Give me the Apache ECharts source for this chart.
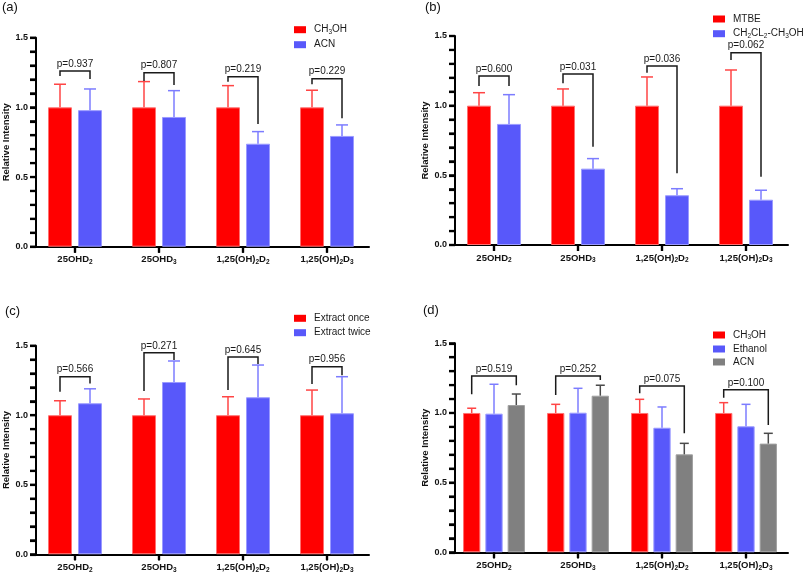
<!DOCTYPE html>
<html>
<head>
<meta charset="utf-8">
<script src="https://cdn.jsdelivr.net/npm/echarts@6/dist/echarts.min.js"></script>
<style>html,body{margin:0;padding:0;background:#fff}#chart{width:803px;height:574px}</style>
</head>
<body>
<div id="chart"></div>
<script>
// ---------- DATA ----------
const categories = ['25OHD_2', '25OHD_3', '1,25(OH)_2D_2', '1,25(OH)_2D_3'];
const yMin = 0, yMax = 1.5, yTickStep = 0.1;
const yTickLabels = ['0.0', '0.5', '1.0', '1.5'];
const yTickValues = [0, 0.1, 0.2, 0.3, 0.4, 0.5, 0.6, 0.7, 0.8, 0.9, 1.0, 1.1, 1.2, 1.3, 1.4, 1.5];

// (a)
const aNames = ['CH_3OH', 'ACN'];
const aCH3OH = [1.0, 1.0, 1.0, 1.0];
const aCH3OHsd = [0.166, 0.185, 0.156, 0.123];
const aACN = [0.980, 0.931, 0.739, 0.795];
const aACNsd = [0.152, 0.189, 0.087, 0.079];
const aP = ['0.937', '0.807', '0.219', '0.229'];
const aBracket = [1.261, 1.249, 1.220, 1.206];
const aLegL = [1.225, 1.189, 1.184, 1.166];
const aLegR = [1.204, 1.161, 0.881, 0.922];

// (b)
const bNames = ['MTBE', 'CH_2CL_2-CH_3OH'];
const bMTBE = [1.0, 1.0, 1.0, 1.0];
const bMTBEsd = [0.093, 0.120, 0.206, 0.256];
const bDCM = [0.869, 0.548, 0.357, 0.325];
const bDCMsd = [0.210, 0.072, 0.047, 0.068];
const bP = ['0.600', '0.031', '0.036', '0.062'];
const bBracket = [1.213, 1.228, 1.285, 1.380];
const bLegL = [1.141, 1.161, 1.237, 1.328];
const bLegR = [1.141, 0.706, 0.515, 0.490];

// (c)
const cNames = ['Extract once', 'Extract twice'];
const cOnce = [1.0, 1.0, 1.0, 1.0];
const cOncesd = [0.104, 0.117, 0.133, 0.181];
const cTwice = [1.086, 1.239, 1.129, 1.014];
const cTwicesd = [0.104, 0.151, 0.232, 0.263];
const cP = ['0.566', '0.271', '0.645', '0.956'];
const cBracket = [1.277, 1.449, 1.418, 1.349];
const cLegL = [1.169, 1.174, 1.181, 1.224];
const cLegR = [1.229, 1.397, 1.369, 1.287];

// (d)
const dNames = ['CH_3OH', 'Ethanol', 'ACN'];
const dCH3OH = [1.0, 1.0, 1.0, 1.0];
const dCH3OHsd = [0.034, 0.062, 0.098, 0.074];
const dEthanol = [0.995, 1.002, 0.894, 0.904];
const dEthanolsd = [0.211, 0.175, 0.149, 0.158];
const dACN = [1.057, 1.124, 0.703, 0.780];
const dACNsd = [0.079, 0.075, 0.079, 0.074];
const dP = ['0.519', '0.252', '0.075', '0.100'];
const dBracket = [1.266, 1.266, 1.194, 1.166];
const dLegL = [1.134, 1.129, 1.141, 1.110];
const dLegR = [1.199, 1.236, 0.854, 0.914];

// ---------- STYLE ----------
const FONT = '"Liberation Sans", Arial, Helvetica, sans-serif';
const RED = '#FF0000', RED_B = '#FF7070', RED_E = '#FF4545';
const BLUE = '#5858FA', BLUE_B = '#9A9AFF', BLUE_E = '#7C7CFF';
const GRAY = '#808080', GRAY_B = '#A0A0A0', GRAY_E = '#4A4A4A';
const Y_AXIS_SHIFT = 3;
const TICK_LEN = 6, TICK_W = 2.2;

function subify(s, nb, ns) {
  const parts = s.split(/_(\d)/);
  let out = '';
  parts.forEach((p, i) => {
    if (!p) return;
    out += '{' + (i % 2 ? ns : nb) + '|' + p + '}';
  });
  return out;
}

const panels = [
  { key: 'a', title: '(a)', titlePos: [2, 1], grid: { left: 33, top: 37.7, width: 336, height: 209 },
    legendPos: [294, 24.7], legendGap: 4, barW: 24, gap: 6, cap: 12,
    series: [[aNames[0], aCH3OH, aCH3OHsd, RED, RED_B, RED_E], [aNames[1], aACN, aACNsd, BLUE, BLUE_B, BLUE_E]],
    p: aP, br: aBracket, legL: aLegL, legR: aLegR },
  { key: 'b', title: '(b)', titlePos: [425, 0.5], grid: { left: 452, top: 36, width: 336, height: 209 },
    legendPos: [713, 14], legendGap: 4.7, barW: 24, gap: 6, cap: 12,
    series: [[bNames[0], bMTBE, bMTBEsd, RED, RED_B, RED_E], [bNames[1], bDCM, bDCMsd, BLUE, BLUE_B, BLUE_E]],
    p: bP, br: bBracket, legL: bLegL, legR: bLegR },
  { key: 'c', title: '(c)', titlePos: [5, 304.5], grid: { left: 33, top: 345.7, width: 336, height: 208.6 },
    legendPos: [294, 313.3], legendGap: 4.4, barW: 24, gap: 6, cap: 12,
    series: [[cNames[0], cOnce, cOncesd, RED, RED_B, RED_E], [cNames[1], cTwice, cTwicesd, BLUE, BLUE_B, BLUE_E]],
    p: cP, br: cBracket, legL: cLegL, legR: cLegR },
  { key: 'd', title: '(d)', titlePos: [423, 304], grid: { left: 452, top: 343.3, width: 336, height: 209 },
    legendPos: [713, 330], legendGap: 3, barW: 17.3, gap: 5, cap: 9,
    series: [[dNames[0], dCH3OH, dCH3OHsd, RED, RED_B, RED_E], [dNames[1], dEthanol, dEthanolsd, BLUE, BLUE_B, BLUE_E], [dNames[2], dACN, dACNsd, GRAY, GRAY_B, GRAY_E]],
    p: dP, br: dBracket, legL: dLegL, legR: dLegR }
];

const option = { animation: false, backgroundColor: '#fff', title: [], grid: [], xAxis: [], yAxis: [], legend: [], series: [] };

panels.forEach((pn, gi) => {
  option.title.push({ text: pn.title, left: pn.titlePos[0], top: pn.titlePos[1], padding: 0,
    textStyle: { fontFamily: FONT, fontSize: 13, fontWeight: 'normal', color: '#111' } });
  option.grid.push(pn.grid);
  option.xAxis.push({
    type: 'category', gridIndex: gi, data: categories,
    axisLine: { show: true, lineStyle: { color: '#000', width: 2 } },
    axisTick: { show: true, alignWithLabel: true, length: TICK_LEN, lineStyle: { color: '#000', width: TICK_W } },
    axisLabel: { margin: 7, interval: 0, formatter: v => subify(v, 'b', 's'),
      rich: { b: { fontFamily: FONT, fontSize: 9.5, fontWeight: 'bold', color: '#111', lineHeight: 12 },
              s: { fontFamily: FONT, fontSize: 6.5, fontWeight: 'bold', color: '#111', lineHeight: 7, verticalAlign: 'bottom' } } },
    splitLine: { show: false }
  });
  option.yAxis.push({
    type: 'value', gridIndex: gi, min: yMin, max: yMax, interval: yTickStep, offset: -Y_AXIS_SHIFT,
    name: 'Relative Intensity', nameLocation: 'middle', nameGap: 23,
    nameTextStyle: { fontFamily: FONT, fontSize: 9.5, fontWeight: 'bold', color: '#111' },
    axisLine: { show: true, lineStyle: { color: '#000', width: 2 } },
    axisTick: { show: true, length: TICK_LEN, lineStyle: { color: '#000', width: TICK_W } },
    axisLabel: { margin: 8, showMinLabel: true, showMaxLabel: true, hideOverlap: false,
      formatter: v => { const s = v.toFixed(1); return yTickLabels.indexOf(s) >= 0 ? s : ''; },
      fontFamily: FONT, fontSize: 9, fontWeight: 'bold', color: '#111' },
    splitLine: { show: false }
  });
  const n = pn.series.length;
  const legendData = [];
  pn.series.forEach((s, si) => {
    const nm = s[0] + '#' + pn.key;
    legendData.push(nm);
    option.series.push({
      name: nm, type: 'bar', xAxisIndex: gi, yAxisIndex: gi, data: s[1],
      barWidth: pn.barW, barGap: (pn.gap / pn.barW * 100).toFixed(1) + '%',
      itemStyle: { color: s[3], borderColor: s[4], borderWidth: 1 }, z: 2
    });
  });
  const step = pn.barW + pn.gap;
  pn.series.forEach((s, si) => {
    const off = (si - (n - 1) / 2) * step;
    const color = s[5], cap = pn.cap;
    option.series.push({
      type: 'custom', xAxisIndex: gi, yAxisIndex: gi, z: 3, silent: true,
      data: s[1].map((m, i) => [i, m, m + s[2][i]]),
      renderItem: (params, api) => {
        const b = api.coord([api.value(0), api.value(1)]);
        const t = api.coord([api.value(0), api.value(2)]);
        const x = b[0] + off;
        return { type: 'group', children: [
          { type: 'line', shape: { x1: x, y1: b[1], x2: x, y2: t[1] }, style: { stroke: color, lineWidth: 1.5 } },
          { type: 'line', shape: { x1: x - cap / 2, y1: t[1], x2: x + cap / 2, y2: t[1] }, style: { stroke: color, lineWidth: 1.5 } }
        ] };
      }
    });
  });
  const offL = (0 - (n - 1) / 2) * step, offR = ((n - 1) - (n - 1) / 2) * step;
  const pv = pn.p;
  option.series.push({
    type: 'custom', xAxisIndex: gi, yAxisIndex: gi, z: 4, silent: true,
    data: pn.br.map((v, i) => [i, v, pn.legL[i], pn.legR[i]]),
    renderItem: (params, api) => {
      const c = api.coord([api.value(0), api.value(1)]);
      const l = api.coord([api.value(0), api.value(2)]);
      const r = api.coord([api.value(0), api.value(3)]);
      const xl = c[0] + offL, xr = c[0] + offR;
      return { type: 'group', children: [
        { type: 'polyline', shape: { points: [[xl, l[1]], [xl, c[1]], [xr, c[1]], [xr, r[1]]] },
          style: { stroke: '#1a1a1a', lineWidth: 1.5, fill: null } },
        { type: 'text', style: { text: 'p=' + pv[params.dataIndex], x: (xl + xr) / 2, y: c[1] - 2,
          align: 'center', verticalAlign: 'bottom', textAlign: 'center', textVerticalAlign: 'bottom',
          fontFamily: FONT, fontSize: 10, fill: '#1a1a1a' } }
      ] };
    }
  });
  // y-axis tick marks drawn through the axis scale (left of the axis line)
  option.series.push({
    type: 'custom', xAxisIndex: gi, yAxisIndex: gi, z: 5, silent: true, clip: false,
    data: yTickValues.map(v => [0, v]),
    renderItem: (params, api) => {
      const p = api.coord([0, api.value(1)]);
      const c0 = api.coord([0, yMin]);
      const halfBand = api.size([1, 0])[0] / 2;
      const ax = c0[0] - halfBand + Y_AXIS_SHIFT;
      return { type: 'line', shape: { x1: ax - TICK_LEN, y1: p[1], x2: ax, y2: p[1] },
        style: { stroke: '#000', lineWidth: TICK_W } };
    }
  });
  // x-axis tick marks at category centres
  option.series.push({
    type: 'custom', xAxisIndex: gi, yAxisIndex: gi, z: 5, silent: true, clip: false,
    data: categories.map((c, i) => [i, yMin]),
    renderItem: (params, api) => {
      const p = api.coord([api.value(0), yMin]);
      return { type: 'line', shape: { x1: p[0], y1: p[1], x2: p[0], y2: p[1] + TICK_LEN },
        style: { stroke: '#000', lineWidth: TICK_W } };
    }
  });
  option.legend.push({
    orient: 'vertical', left: pn.legendPos[0], top: pn.legendPos[1], padding: 0,
    itemWidth: 12, itemHeight: 7, itemGap: pn.legendGap, icon: 'rect', selectedMode: false,
    data: legendData,
    itemStyle: { borderWidth: 0 },
    formatter: name => subify(name.split('#')[0], 'n', 'm'),
    textStyle: { padding: [0, 0, 0, 3], rich: {
      n: { fontFamily: FONT, fontSize: 10, color: '#1a1a1a', lineHeight: 12 },
      m: { fontFamily: FONT, fontSize: 6.5, color: '#1a1a1a', lineHeight: 7, verticalAlign: 'bottom' } } }
  });
});

const chart = echarts.init(document.getElementById('chart'), null, { renderer: 'canvas' });
chart.setOption(option);
</script>
</body>
</html>
